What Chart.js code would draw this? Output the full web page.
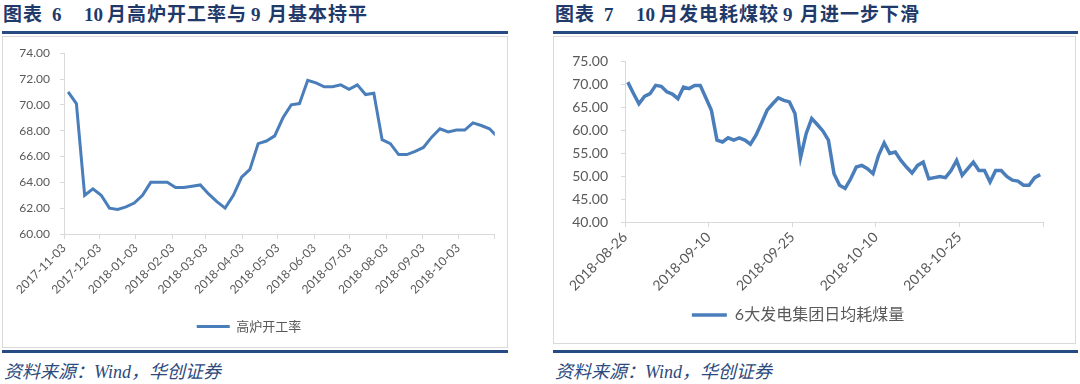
<!DOCTYPE html>
<html>
<head>
<meta charset="utf-8">
<script src="https://cdn.jsdelivr.net/npm/chart.js@4.4.1/dist/chart.umd.min.js"></script>
<style>
  body { margin: 0; background: #fff; width: 1080px; height: 384px; overflow: hidden; position: relative; font-family: "Noto Sans CJK SC", sans-serif; }
  .title { position: absolute; top: 3px; height: 26px; font-size: 19px; font-weight: bold; color: #1f3a6a; line-height: 24px; font-family: "Liberation Serif", "Noto Sans CJK SC", serif; }
  .title span { position: absolute; top: 0; white-space: pre; }
  .title span.cjk { letter-spacing: 1px; }
  .rule { position: absolute; height: 3px; background: #264b82; }
  .box { position: absolute; border: 1px solid #d9d9d9; box-sizing: border-box; }
  .src { position: absolute; top: 357px; font-size: 18px; font-style: italic; color: #2c4a7c; font-family: "Liberation Serif", "Noto Sans CJK SC", serif; white-space: pre; }
  canvas { position: absolute; }
</style>
</head>
<body>
<div class="title" style="left:0px">
  <span class="cjk" style="left:3px">图表</span><span style="left:52px">6</span><span style="left:84px">10</span><span class="cjk" style="left:107px">月高炉开工率与</span><span style="left:251px">9</span><span class="cjk" style="left:268px">月基本持平</span>
</div>
<div class="rule" style="left:2px; width:506px; top:31px"></div>
<div class="box" style="left:2px; top:36px; width:506px; height:312px"></div>
<div class="rule" style="left:2px; width:506px; top:350px"></div>
<div class="src" style="left:4px">资料来源：Wind，华创证券</div>
<div style="position:absolute; left:2px; top:36px; width:505px; height:311px"><canvas id="furnace"></canvas></div>

<div class="title" style="left:0px">
  <span class="cjk" style="left:555px">图表</span><span style="left:604px">7</span><span style="left:636px">10</span><span class="cjk" style="left:659px">月发电耗煤较</span><span style="left:783px">9</span><span class="cjk" style="left:800px">月进一步下滑</span>
</div>
<div class="rule" style="left:553px; width:525px; top:31px"></div>
<div class="box" style="left:553px; top:36px; width:523px; height:308px"></div>
<div class="rule" style="left:553px; width:525px; top:350px"></div>
<div class="src" style="left:555px">资料来源：Wind，华创证券</div>
<div style="position:absolute; left:553px; top:36px; width:522px; height:307px"><canvas id="coal"></canvas></div>

<script>
// 高炉开工率, weekly from 2017-11-03
var furnaceStart = "2017-11-03";
var furnaceRate = [71.0, 70.1, 63.0, 63.5, 63.0, 62.0, 61.9, 62.1, 62.4, 63.0,
    64.0, 64.0, 64.0, 63.6, 63.6, 63.7, 63.8, 63.1, 62.5, 62.0,
    63.0, 64.4, 65.0, 67.0, 67.2, 67.6, 69.0, 70.0, 70.1, 71.9,
    71.7, 71.4, 71.4, 71.55, 71.2, 71.55, 70.8, 70.9, 67.3, 67.0,
    66.15, 66.15, 66.4, 66.7, 67.5, 68.15, 67.9, 68.05, 68.05, 68.6,
    68.4, 68.15, 67.5];
var furnaceTicks = ["2017-11-03", "2017-12-03", "2018-01-03", "2018-02-03", "2018-03-03", "2018-04-03",
    "2018-05-03", "2018-06-03", "2018-07-03", "2018-08-03", "2018-09-03", "2018-10-03", "2018-11-03"];
var furnaceTickLabels = ["2017-11-03", "2017-12-03", "2018-01-03", "2018-02-03", "2018-03-03", "2018-04-03",
    "2018-05-03", "2018-06-03", "2018-07-03", "2018-08-03", "2018-09-03", "2018-10-03", ""];
var furnaceYTicks = [60, 62, 64, 66, 68, 70, 72, 74];

// 6大发电集团日均耗煤量, daily from 2018-08-26
var coalStart = "2018-08-26";
var coalUse = [70.4, 68.0, 65.7, 67.3, 67.9, 69.7, 69.5, 68.3, 67.8, 66.8,
    69.35, 69.0, 69.7, 69.7, 67.0, 64.3, 57.8, 57.4, 58.3, 57.8,
    58.3, 57.8, 56.9, 58.85, 61.5, 64.3, 65.7, 67.0, 66.45, 66.1,
    63.6, 54.0, 59.2, 62.5, 61.2, 59.8, 57.8, 50.5, 48.0, 47.3,
    49.4, 51.95, 52.3, 51.6, 50.5, 54.5, 57.2, 54.9, 55.2, 53.4,
    51.95, 50.65, 52.3, 53.0, 49.4, 49.65, 49.9, 49.65, 51.2, 53.4,
    50.15, 51.6, 53.0, 51.2, 51.2, 48.7, 51.2, 51.2, 49.9, 49.1,
    48.9, 48.0, 48.0, 49.65, 50.3];
var coalTicks = ["2018-08-26", "2018-09-10", "2018-09-25", "2018-10-10", "2018-10-25", "2018-11-09"];
var coalTickLabels = ["2018-08-26", "2018-09-10", "2018-09-25", "2018-10-10", "2018-10-25", ""];
var coalYTicks = [40, 45, 50, 55, 60, 65, 70, 75];

function dayOf(start, d) {
    return (Date.parse(d) - Date.parse(start)) / 86400000;
}

var blue = "#4a7ebb";
var axisGray = "#d9d9d9";
var textGray = "#595959";
var numFont = "Lato, 'Noto Sans CJK SC', sans-serif";

function makeChart(id, cfg) {
    var tickDays = cfg.ticks.map(function (d) { return dayOf(cfg.start, d); });
    var pts = cfg.values.map(function (v, i) { return { x: (i + 0.5) * cfg.step, y: v }; });
    return new Chart(id, {
        type: "line",
        data: {
            datasets: [{
                label: cfg.label,
                data: pts,
                borderColor: blue,
                backgroundColor: blue,
                borderWidth: cfg.lineWidth,
                pointRadius: 0,
                tension: 0
            }]
        },
        options: {
            responsive: true,
            maintainAspectRatio: false,
            animation: false,
            layout: { padding: cfg.padding },
            plugins: {
                tooltip: { enabled: false },
                legend: {
                    position: "bottom",
                    labels: {
                        usePointStyle: true,
                        pointStyle: "line",
                        pointStyleWidth: cfg.legendLine,
                        color: textGray,
                        padding: 10,
                        font: { family: numFont, size: cfg.legendSize }
                    }
                }
            },
            scales: {
                x: {
                    type: "linear",
                    min: tickDays[0],
                    max: tickDays[tickDays.length - 1],
                    afterBuildTicks: function (s) {
                        s.ticks = tickDays.map(function (v) { return { value: v }; });
                    },
                    afterFit: function (s) { s.height = cfg.xHeight; },
                    grid: { drawOnChartArea: false, color: axisGray, tickLength: 5 },
                    border: { color: axisGray },
                    ticks: {
                        autoSkip: false,
                        minRotation: 45,
                        maxRotation: 45,
                        padding: 2,
                        color: textGray,
                        font: { family: numFont, size: cfg.xSize },
                        callback: function (v, i) { return cfg.labels[i]; }
                    }
                },
                y: {
                    min: cfg.yTicks[0],
                    max: cfg.yTicks[cfg.yTicks.length - 1],
                    afterBuildTicks: function (s) {
                        s.ticks = cfg.yTicks.map(function (v) { return { value: v }; });
                    },
                    afterFit: function (s) { s.width = cfg.yWidth; },
                    grid: { drawOnChartArea: false, color: axisGray, tickLength: 4 },
                    border: { color: axisGray },
                    ticks: {
                        autoSkip: false,
                        padding: cfg.yPad,
                        color: textGray,
                        font: { family: numFont, size: cfg.ySize },
                        callback: function (v) { return v.toFixed(2); }
                    }
                }
            }
        }
    });
}

makeChart("furnace", {
    start: furnaceStart, values: furnaceRate, step: 7, ticks: furnaceTicks, labels: furnaceTickLabels,
    yTicks: furnaceYTicks,
    label: "高炉开工率", lineWidth: 3, legendLine: 33, legendSize: 13,
    padding: { top: 17, right: 11, left: 0, bottom: 4 },
    xHeight: 76, xSize: 12, yWidth: 62, yPad: 10, ySize: 12
});

makeChart("coal", {
    start: coalStart, values: coalUse, step: 1, ticks: coalTicks, labels: coalTickLabels,
    yTicks: coalYTicks,
    label: "6大发电集团日均耗煤量", lineWidth: 3.5, legendLine: 35, legendSize: 16,
    padding: { top: 25, right: 32, left: 0, bottom: 10 },
    xHeight: 75, xSize: 14, yWidth: 72, yPad: 13, ySize: 14
});
</script>
</body>
</html>
